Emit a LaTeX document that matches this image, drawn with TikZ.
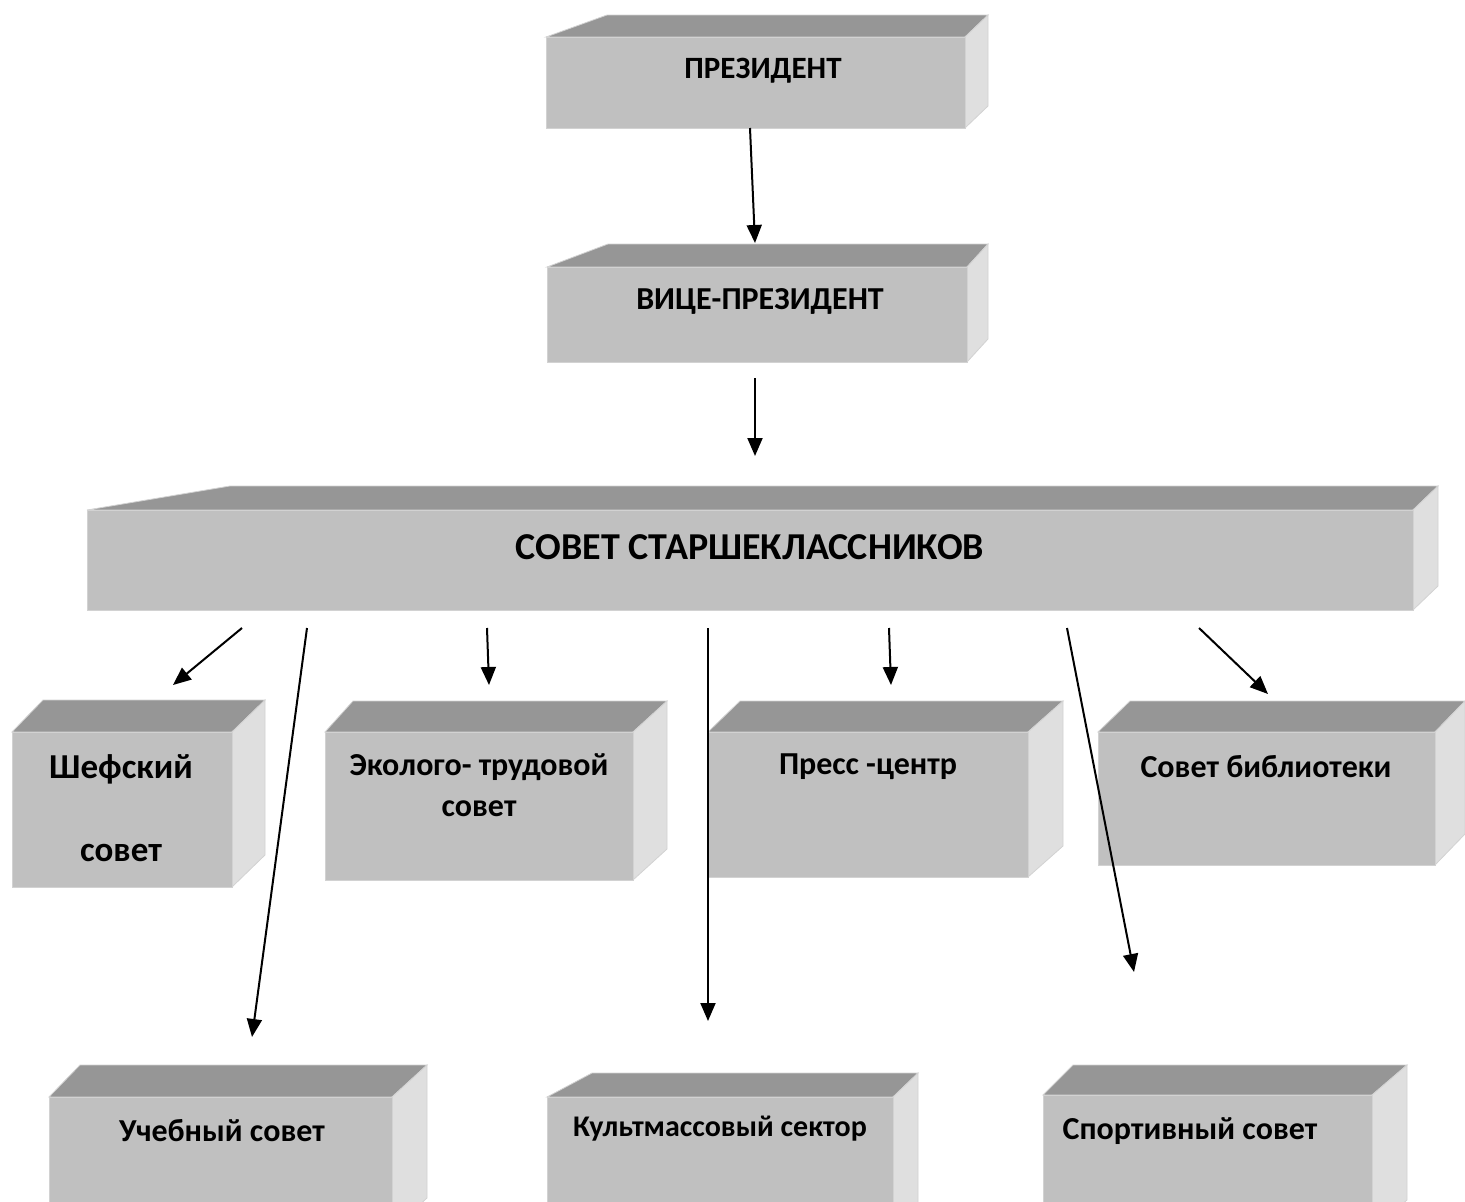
\documentclass[tikz,border=0pt]{standalone}
\usepackage{fontspec}
\setmainfont{Carlito}
\usetikzlibrary{arrows.meta}

\definecolor{frontgray}{HTML}{C0C0C0}
\definecolor{topgray}{HTML}{969696}
\definecolor{sidegray}{HTML}{DFDFDF}
\definecolor{rimgray}{HTML}{D2D2D2}

\tikzset{
    frontface/.style={fill=frontgray, draw=rimgray, line width=0.8pt},
    topface/.style={fill=topgray, draw=rimgray, line width=0.8pt},
    sideface/.style={fill=sidegray, draw=rimgray, line width=0.8pt},
    lbl/.style={font=\bfseries\fontsize{32}{38}\selectfont, inner sep=0pt},
    arr/.style={-{Triangle[length=18pt,width=15pt]}, line width=2pt}
}

% slab: name, front x1,y1,x2,y2, top back left x, back right x, back top y
\newcommand{\slab}[8]{%
    \fill[topface] (#2,#3) -- (#6,#8) -- (#7,#8) -- (#4,#3) -- cycle;
    \fill[sideface] (#4,#3) -- (#7,#8) -- (#7,{#5-#3+#8}) -- (#4,#5) -- cycle;
    \fill[frontface] (#2,#3) rectangle (#4,#5);
    \path (#2,#3) coordinate (#1-nw) (#4,#5) coordinate (#1-se);
}

\begin{document}
\begin{tikzpicture}[x=1pt, y=-1pt]
    \useasboundingbox (0,0) rectangle (1465,1202);

    % boxes
    \slab{pres}{546}{37}{965}{128}{607}{988}{15}
    \slab{vice}{547}{267}{967}{362}{608}{988}{244}
    \slab{council}{87}{510}{1413}{610}{230}{1438}{486}
    \slab{patron}{12}{732}{232}{887}{43}{265}{700}
    \slab{eco}{325}{732}{633}{880}{353}{667}{701}
    \slab{press}{708}{732}{1028}{877}{740}{1063}{701}
    \slab{library}{1098}{732}{1435}{865}{1130}{1465}{701}
    \slab{study}{49}{1097}{392}{1230}{80}{427}{1065}
    \slab{culture}{547}{1097}{893}{1230}{592}{918}{1073}
    \slab{sport}{1043}{1095}{1372}{1230}{1073}{1407}{1065}

    % labels
    \node[lbl, font=\bfseries\fontsize{31}{36}\selectfont] (pres-t) at (763,71) {ПРЕЗИДЕНТ};
    \node[lbl] (vice-t) at (760,301) {ВИЦЕ-ПРЕЗИДЕНТ};
    \node[lbl, font=\bfseries\fontsize{38}{44}\selectfont] (council-t) at (750,547) {СОВЕТ СТАРШЕКЛАССНИКОВ};
    \node[lbl, font=\bfseries\fontsize{35}{40}\selectfont] (patron-t) at (121,769) {Шефский};
    \node[lbl, font=\bfseries\fontsize{35}{40}\selectfont] (patron-b) at (121,853) {совет};
    \node[lbl] (eco-t) at (479,767) {Эколого- трудовой};
    \node[lbl] (eco-b) at (479,809) {совет};
    \node[lbl] (press-t) at (868,767) {Пресс -центр};
    \node[lbl] (library-t) at (1266,767) {Совет библиотеки};
    \node[lbl] (study-t) at (222,1131) {Учебный совет};
    \node[lbl, font=\bfseries\fontsize{30}{35}\selectfont] (culture-t) at (720,1129) {Культмассовый сектор};
    \node[lbl] (sport-t) at (1190,1131) {Спортивный совет};

    % arrow ends
    \coordinate (a1) at (750,128);  \coordinate (b1) at (755,243);
    \coordinate (a2) at (755,378);  \coordinate (b2) at (755,456);
    \coordinate (a3) at (242,628);  \coordinate (b3) at (173,685);
    \coordinate (a4) at (307,628);  \coordinate (b4) at (252,1037);
    \coordinate (a5) at (487,628);  \coordinate (b5) at (489,685);
    \coordinate (a6) at (708,628);  \coordinate (b6) at (708,1021);
    \coordinate (a7) at (889,628);  \coordinate (b7) at (891,685);
    \coordinate (a8) at (1067,628); \coordinate (b8) at (1134,972);
    \coordinate (a9) at (1199,628); \coordinate (b9) at (1268,694);

    \foreach \i in {1,...,9}
        \draw[arr] (a\i) -- (b\i);
\end{tikzpicture}
\end{document}
